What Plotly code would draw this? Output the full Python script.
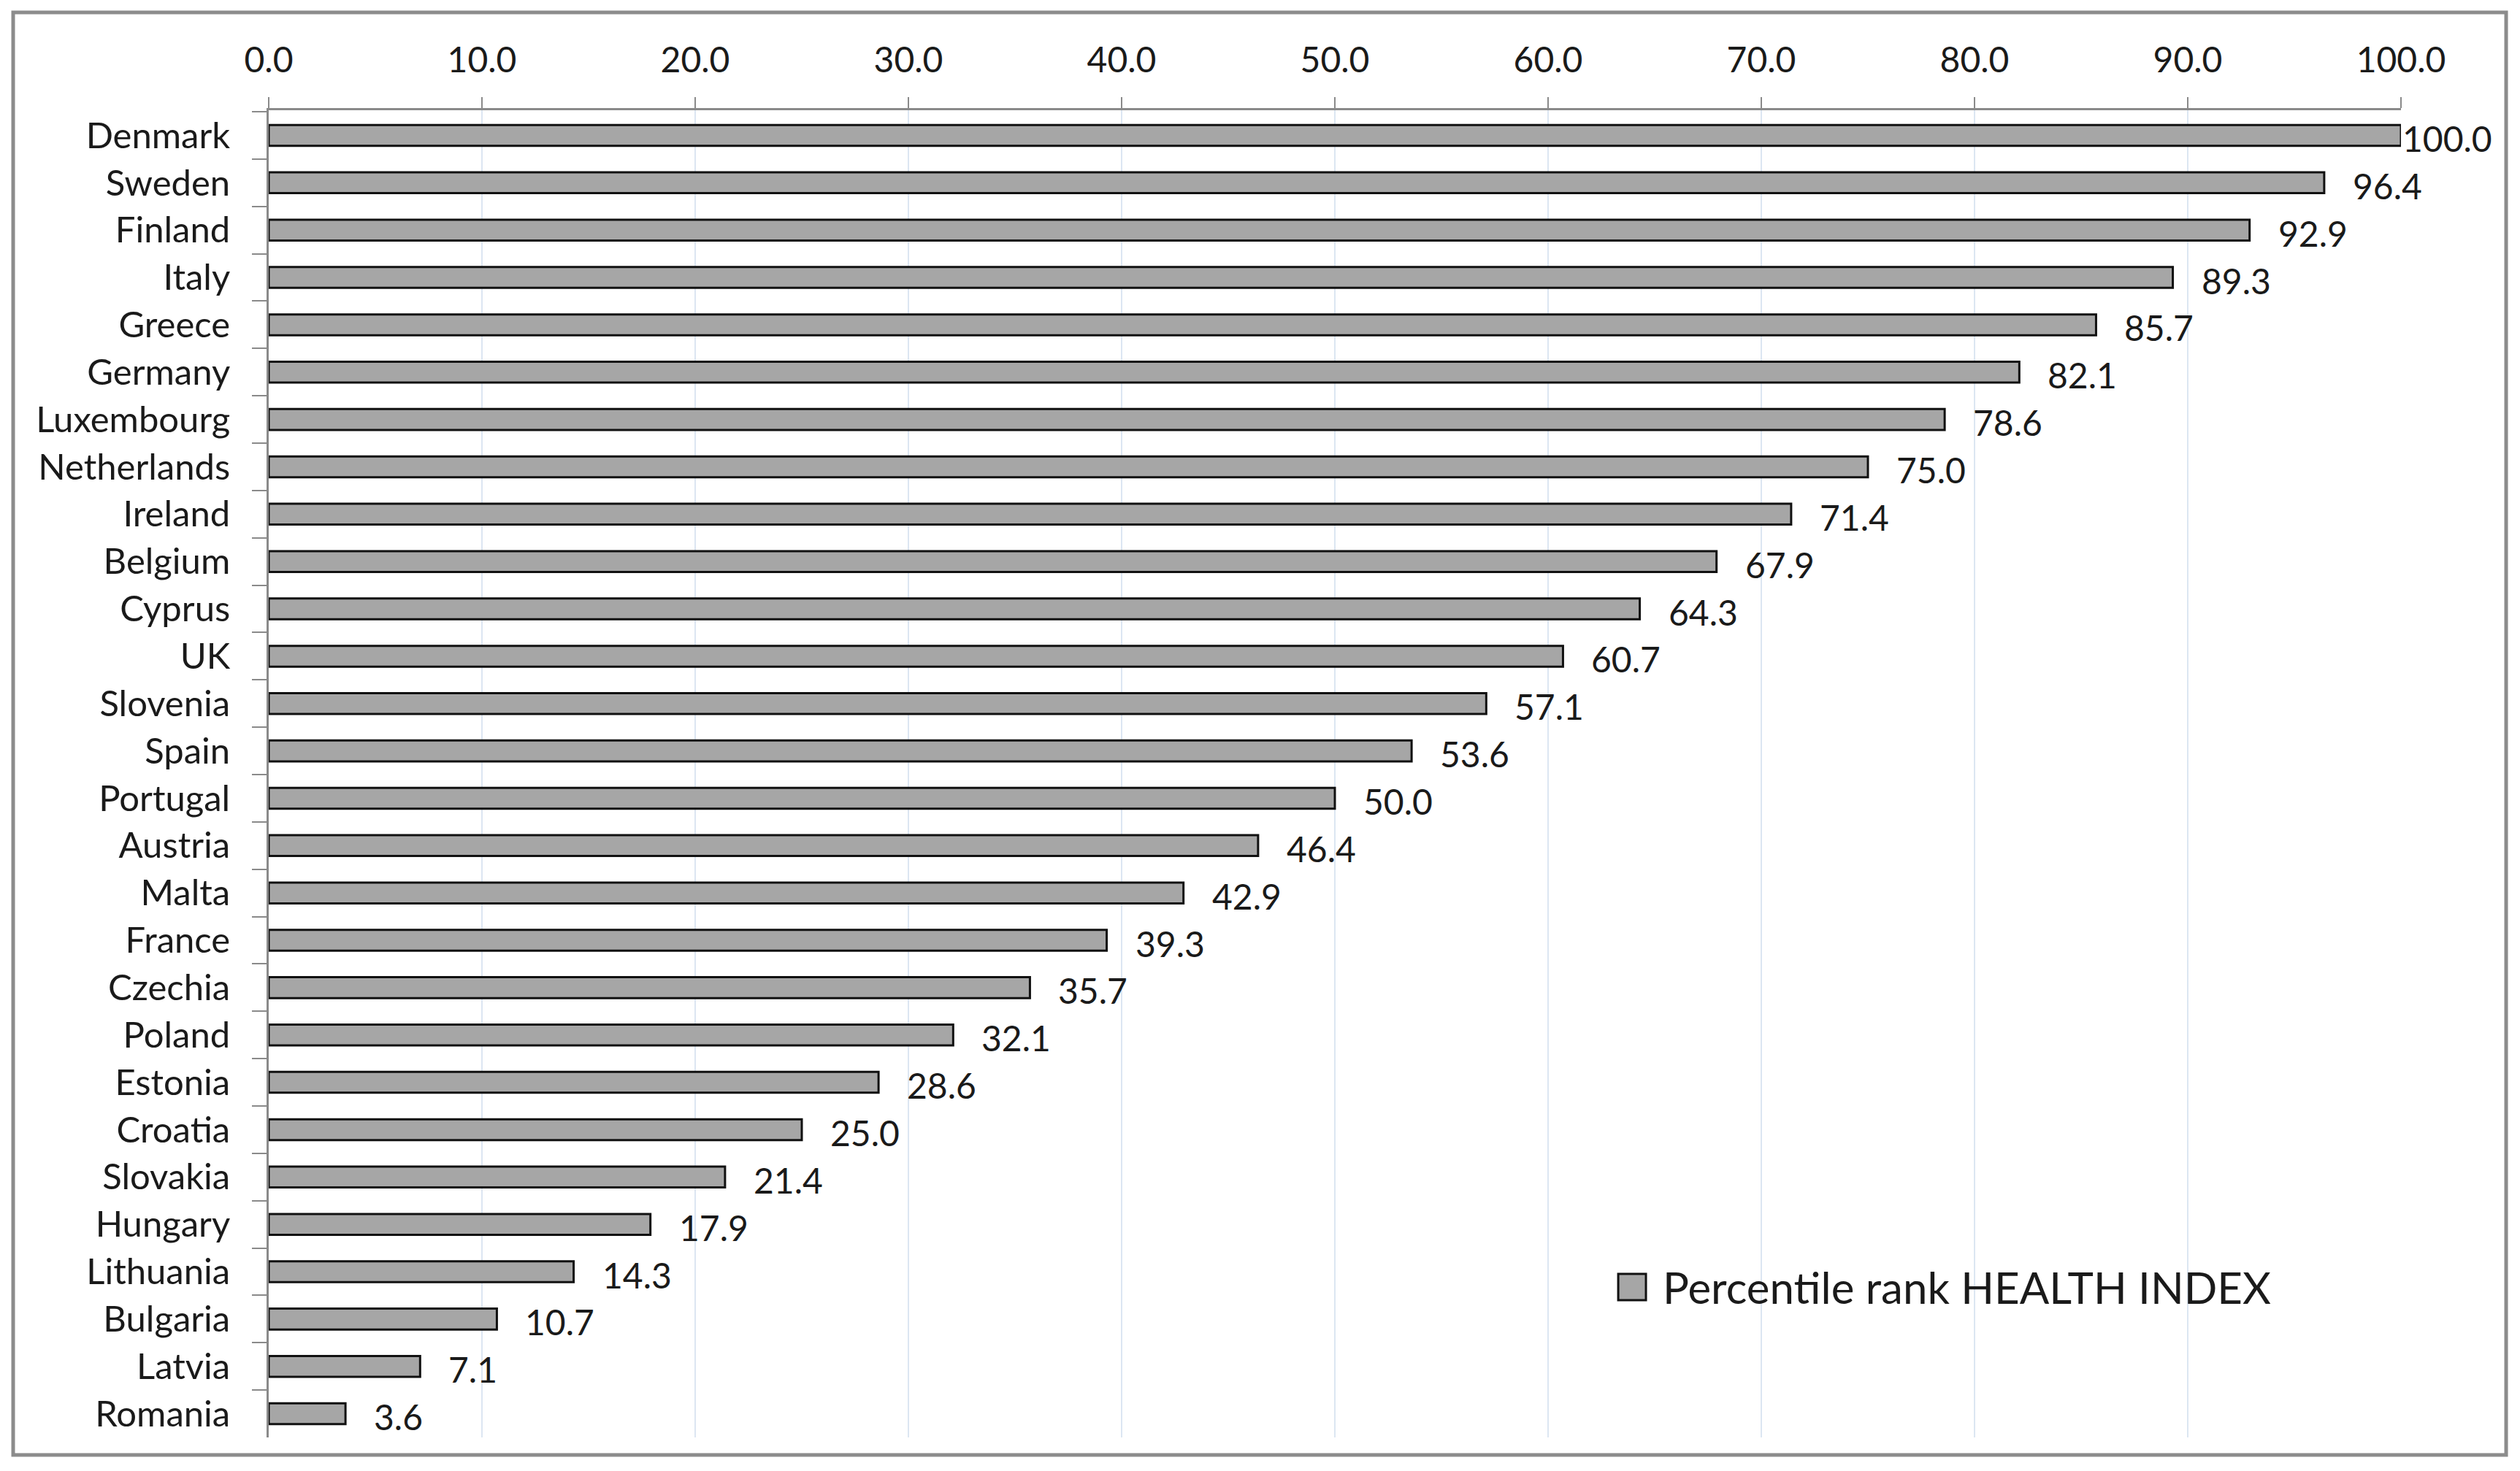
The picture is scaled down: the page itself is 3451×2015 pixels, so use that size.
import plotly.graph_objects as go

countries = ["Denmark", "Sweden", "Finland", "Italy", "Greece", "Germany", "Luxembourg",
             "Netherlands", "Ireland", "Belgium", "Cyprus", "UK", "Slovenia", "Spain",
             "Portugal", "Austria", "Malta", "France", "Czechia", "Poland", "Estonia",
             "Croatia", "Slovakia", "Hungary", "Lithuania", "Bulgaria", "Latvia", "Romania"]
values = [100.0, 96.4, 92.9, 89.3, 85.7, 82.1, 78.6, 75.0, 71.4, 67.9, 64.3, 60.7, 57.1, 53.6,
          50.0, 46.4, 42.9, 39.3, 35.7, 32.1, 28.6, 25.0, 21.4, 17.9, 14.3, 10.7, 7.1, 3.6]
series_name = "Percentile rank HEALTH INDEX"
x_ticks = [0, 10, 20, 30, 40, 50, 60, 70, 80, 90, 100]

FONT = "Lato, Roboto, 'DejaVu Sans', sans-serif"
TXT = "#1a1a1a"
AXIS = "#8a8a8a"

fig = go.Figure()
fig.add_trace(go.Bar(
    x=values, y=countries, orientation="h", name=series_name,
    width=0.44,
    marker=dict(color="#a6a6a6", line=dict(color="#111111", width=3)),
    showlegend=False, hoverinfo="x+y",
))

annotations = []
for c, v in zip(countries, values):
    annotations.append(dict(
        x=v, y=c, xref="x", yref="y", text=f"{v:.1f}", showarrow=False,
        xanchor="left", yanchor="middle", xshift=(0 if v >= 100 else 37), yshift=-4,
        font=dict(family=FONT, size=48, color=TXT),
    ))

# manual legend (large symbol like the reference)
annotations.append(dict(
    x=0.6530, y=0.1133, xref="paper", yref="paper", text=series_name, showarrow=False,
    xanchor="left", yanchor="middle", font=dict(family=FONT, size=60, color=TXT),
))

shapes = [
    dict(type="rect", xref="paper", yref="paper", x0=0.6329, x1=0.6459, y0=0.1034, y1=0.1232,
         fillcolor="#a6a6a6", line=dict(color="#111111", width=3)),
    dict(type="rect", xref="paper", yref="paper", x0=-0.11986, x1=1.04932, y0=-0.0132, y1=1.07371,
         fillcolor="rgba(0,0,0,0)", line=dict(color="#8c8c8c", width=5), layer="below"),
]

fig.update_layout(
    width=3451, height=2015,
    margin=dict(l=368, r=163, t=151, b=46, autoexpand=False),
    paper_bgcolor="white", plot_bgcolor="white",
    font=dict(family=FONT, size=48, color=TXT),
    annotations=annotations, shapes=shapes,
    xaxis=dict(
        side="top", range=[0, 100], tickvals=x_ticks,
        ticktext=[f"{t:.1f}" for t in x_ticks],
        showgrid=True, gridcolor="#dce6f2", gridwidth=2, zeroline=False,
        showline=True, linecolor=AXIS, linewidth=3,
        ticks="outside", ticklen=15, tickwidth=2, tickcolor=AXIS,
        tickfont=dict(family=FONT, size=48, color=TXT), ticklabelstandoff=15,
        fixedrange=True, automargin=False,
    ),
    yaxis=dict(
        autorange="reversed", type="category", tickson="boundaries",
        showline=True, linecolor=AXIS, linewidth=3, showgrid=False,
        ticks="outside", ticklen=20, tickwidth=2, tickcolor=AXIS,
        tickfont=dict(family=FONT, size=49, color=TXT), ticklabelstandoff=40,
        fixedrange=True, automargin=False,
    ),
)

fig.write_html(
    "out.html",
    config={"displayModeBar": False},
    post_script="document.body.style.margin='0';document.body.style.overflow='hidden';",
)
